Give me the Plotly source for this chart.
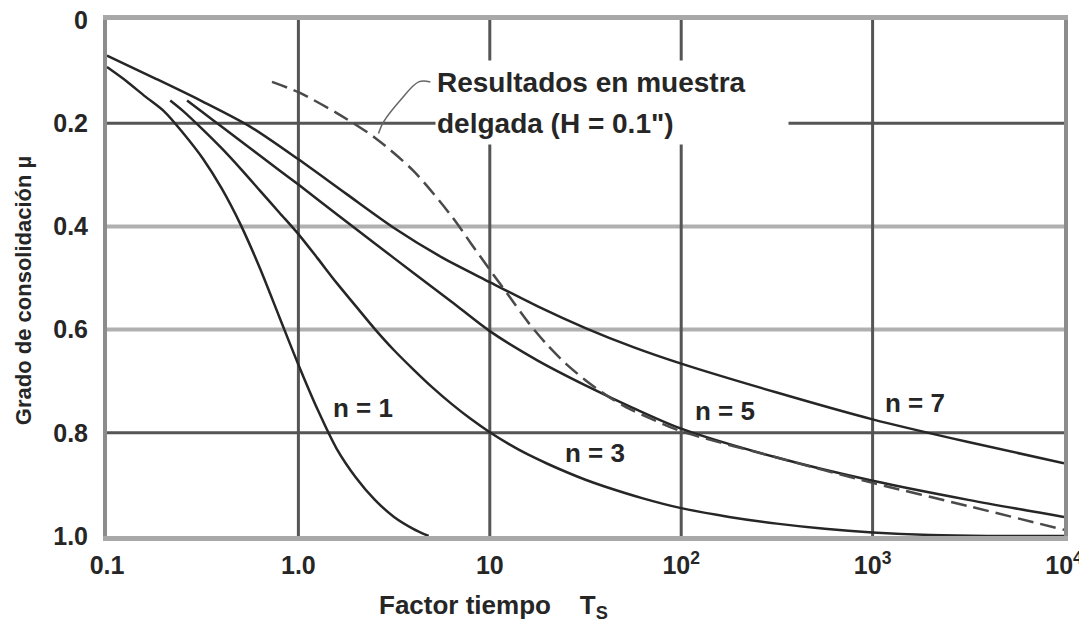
import plotly.graph_objects as go

# curves: time factor T_s vs degree of consolidation mu
T_N1 = [0.1, 0.126, 0.158, 0.2, 0.251, 0.316, 0.398, 0.501, 0.631, 0.794, 1.0, 1.26, 1.58, 2.0, 2.51, 3.16, 3.98, 4.79]
MU_N1 = [0.091, 0.118, 0.148, 0.178, 0.22, 0.268, 0.327, 0.398, 0.482, 0.575, 0.668, 0.755, 0.83, 0.887, 0.93, 0.963, 0.986, 1.0]

T_N3 = [0.214, 0.251, 0.316, 0.398, 0.501, 0.631, 0.794, 1.0, 1.26, 1.58, 2.0, 2.51, 3.16, 3.98, 5.01, 6.31,
        7.94, 10, 12.6, 15.8, 20, 25.1, 31.6, 39.8, 63.1, 100, 178, 316, 562, 1000, 2000, 3980, 10000]
MU_N3 = [0.156, 0.177, 0.212, 0.249, 0.289, 0.331, 0.373, 0.415, 0.462, 0.509, 0.555, 0.599, 0.64, 0.677, 0.712,
         0.744, 0.773, 0.799, 0.822, 0.842, 0.86, 0.876, 0.891, 0.904, 0.927, 0.946, 0.963, 0.976, 0.986, 0.993,
         0.998, 1.0, 1.0]

T_N5 = [0.262, 0.316, 0.398, 0.501, 0.631, 0.794, 1.0, 1.58, 2.51, 3.98, 6.31, 10, 17.8, 31.6, 56.2, 100, 316,
        1000, 3160, 10000]
MU_N5 = [0.156, 0.179, 0.207, 0.235, 0.263, 0.291, 0.319, 0.376, 0.433, 0.49, 0.546, 0.603, 0.66, 0.708, 0.752,
         0.792, 0.848, 0.893, 0.93, 0.963]

T_N7 = [0.1, 0.178, 0.316, 0.562, 1.0, 1.78, 3.16, 5.62, 10, 17.8, 31.6, 56.2, 100, 316, 1000, 3160, 10000]
MU_N7 = [0.069, 0.113, 0.158, 0.207, 0.27, 0.337, 0.403, 0.46, 0.508, 0.555, 0.597, 0.634, 0.666, 0.722, 0.774,
         0.818, 0.859]

# thin sample results (dashed)
T_DASH = [0.728, 1.0, 1.58, 2.51, 3.98, 6.31, 7.94, 10, 12.6, 15.8, 20, 25.1, 31.6, 39.8, 50.1, 70.8, 100, 316,
          1000, 3160, 10000]
MU_DASH = [0.12, 0.14, 0.18, 0.228, 0.292, 0.38, 0.432, 0.484, 0.535, 0.585, 0.63, 0.667, 0.698, 0.725, 0.748,
           0.774, 0.797, 0.848, 0.897, 0.942, 0.988]

# leader from the note to the dashed curve
T_LEADER = [4.89, 4.25, 3.4, 2.78, 2.62]
MU_LEADER = [0.12, 0.12, 0.156, 0.198, 0.22]

X_TICKS = [0.1, 1, 10, 100, 1000, 10000]
X_TICK_TEXT = ["0.1", "1.0", "10", "10<sup>2</sup>", "10<sup>3</sup>", "10<sup>4</sup>"]
Y_TICKS = [0, 0.2, 0.4, 0.6, 0.8, 1.0]
Y_TICK_TEXT = ["0", "0.2", "0.4", "0.6", "0.8", "1.0"]

CURVE_LABELS = [("n = 1", 0.335, 0.752), ("n = 3", 1.55, 0.839), ("n = 5", 2.229, 0.758), ("n = 7", 3.22, 0.743)]

FONT = "Liberation Sans, Arial, sans-serif"
INK = "#262626"

fig = go.Figure()

# grid: dark lines at 0.2 / 0.8 and at each decade, light gray at 0.4 / 0.6
for y, col, w in [(0.2, "#555555", 3), (0.4, "#b0b0b0", 4), (0.6, "#b0b0b0", 4), (0.8, "#555555", 3)]:
    fig.add_hline(y=y, line_color=col, line_width=w, layer="below")
for x in [1, 10, 100, 1000]:
    fig.add_vline(x=x, line_color="#555555", line_width=3, layer="below")

for t, mu in [(T_N1, MU_N1), (T_N3, MU_N3), (T_N5, MU_N5), (T_N7, MU_N7)]:
    fig.add_trace(go.Scatter(x=t, y=mu, mode="lines", line=dict(color=INK, width=2.5, shape="spline", smoothing=0.8),
                             showlegend=False, hoverinfo="skip"))

fig.add_trace(go.Scatter(x=T_DASH, y=MU_DASH, mode="lines",
                         line=dict(color="#4a4a4a", width=2.5, dash="16px,7px", shape="spline", smoothing=0.8),
                         showlegend=False, hoverinfo="skip"))
fig.add_trace(go.Scatter(x=T_LEADER, y=MU_LEADER, mode="lines",
                         line=dict(color="#666666", width=1.5, shape="spline"),
                         showlegend=False, hoverinfo="skip"))

# note with white box that interrupts the grid
for text, yp in [("Resultados en muestra", 0.879), ("delgada (H = 0.1\")", 0.801)]:
    fig.add_annotation(x=0.343, y=yp, xref="paper", yref="paper", xanchor="left", yanchor="middle",
                       text=text, showarrow=False, align="left", width=350, height=40,
                       bgcolor="white", font=dict(family=FONT, size=28, color=INK, weight="bold"))

for text, lx, ly in CURVE_LABELS:
    fig.add_annotation(x=lx, y=ly, xref="x", yref="y", text=text, showarrow=False,
                       font=dict(family=FONT, size=26, color=INK, weight="bold"))

fig.add_annotation(x=0.404, y=-0.137, xref="paper", yref="paper", xanchor="center", yanchor="middle",
                   showarrow=False, text="Factor tiempo&nbsp;&nbsp;&nbsp;&nbsp;T<sub>S</sub>",
                   font=dict(family=FONT, size=26, color=INK, weight="bold"))
fig.add_annotation(x=-0.087, y=0.476, xref="paper", yref="paper", xanchor="center", yanchor="middle",
                   showarrow=False, textangle=-90, text="Grado de consolidación µ",
                   font=dict(family=FONT, size=22, color=INK, weight="bold"))

fig.update_xaxes(type="log", range=[-1, 4], tickvals=X_TICKS, ticktext=X_TICK_TEXT, automargin=False,
                 showgrid=False, zeroline=False, showline=True, mirror=True,
                 linecolor="#a8a8a8", linewidth=5, ticks="", ticklabelstandoff=3, ticklabeloverflow="allow",
                 tickfont=dict(family=FONT, size=25, color=INK, weight="bold"))
fig.update_yaxes(range=[1.0, 0], tickvals=Y_TICKS, ticktext=Y_TICK_TEXT, automargin=False,
                 showgrid=False, zeroline=False, showline=True, mirror=True,
                 linecolor="#8c8c8c", linewidth=4, ticks="", ticklabelstandoff=10, ticklabeloverflow="allow",
                 tickfont=dict(family=FONT, size=25, color=INK, weight="bold"))

# page body adds an 8px margin, so the figure is sized to fit the window
fig.update_layout(width=1079, height=626, margin=dict(l=99, r=23, t=12, b=98),
                  plot_bgcolor="white", paper_bgcolor="white")

fig.write_html("out.html")
